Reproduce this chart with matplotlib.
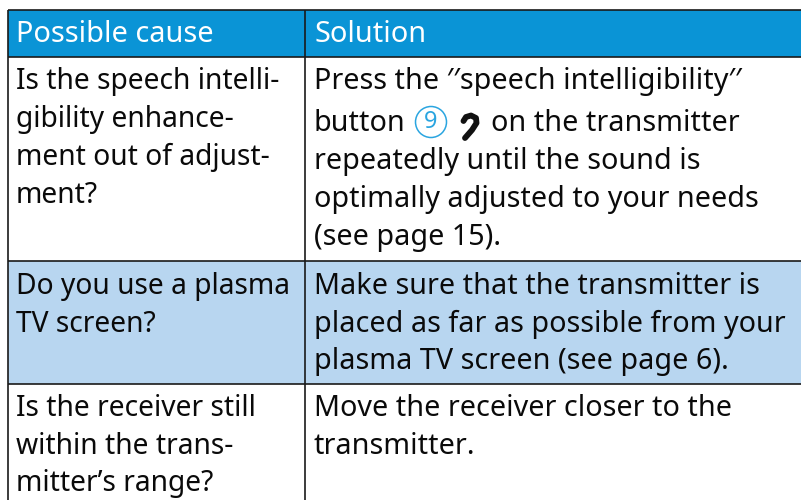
import matplotlib
matplotlib.use('Agg')
import matplotlib.pyplot as plt
from matplotlib.patches import Rectangle, Circle

# ------------------------------------------------------------------------------------------------
## table content
HEADERS = ['Possible cause', 'Solution']

CAUSES = [
    ['Is the speech intelli-', 'gibility enhance-', 'ment out of adjust-', 'ment?'],
    ['Do you use a plasma', 'TV screen?'],
    ['Is the receiver still', 'within the trans-', 'mitter\u2019s range?'],
]

SOLUTIONS = [
    ['Press the \u2032\u2032speech intelligibility\u2032\u2032',
     'button',
     'repeatedly until the sound is',
     'optimally adjusted to your needs',
     '(see page 15).'],
    ['Make sure that the transmitter is',
     'placed as far as possible from your',
     'plasma TV screen (see page 6).'],
    ['Move the receiver closer to the', 'transmitter.'],
]

BUTTON_NUMBER = '9'
BUTTON_TAIL = 'on the transmitter'

# ------------------------------------------------------------------------------------------------
## layout in pixels of the 801x500 picture
LEFT, MIDDLE, RIGHT = 7.5, 305, 801
TOP, HEADER_BOTTOM = 9.5, 57
ROW_BOTTOMS = [261, 384, 500]
ROW_COLORS = ['white', '#b8d6f0', 'white']
HEADER_COLOR = '#0a94d6'

CAUSE_BASELINES = [[89, 127, 165, 203], [294, 332], [416, 454, 491]]
SOLUTION_BASELINES = [[89, 131, 169, 207, 244.5], [294, 332, 369], [416, 454]]

FONT = 'Noto Sans'
CAUSE_SIZE = 20.3
SOLUTION_SIZE = 20.7

fig = plt.figure(figsize=(8.01, 5), dpi=100)
ax = fig.add_axes([0, 0, 1, 1])
ax.set_xlim(0, 801)
ax.set_ylim(500, 0)
ax.axis('off')

# backgrounds
ax.add_patch(Rectangle((LEFT, TOP), RIGHT - LEFT, HEADER_BOTTOM - TOP, fc=HEADER_COLOR, ec='none'))
row_top = HEADER_BOTTOM
for bottom, color in zip(ROW_BOTTOMS, ROW_COLORS):
    ax.add_patch(Rectangle((LEFT, row_top), RIGHT - LEFT, bottom - row_top, fc=color, ec='none'))
    row_top = bottom

# grid lines
for y in [TOP, HEADER_BOTTOM] + ROW_BOTTOMS[:2]:
    ax.plot([LEFT, RIGHT], [y, y], color='#1a1a1a', lw=1.2, solid_capstyle='butt')
for x in [LEFT, MIDDLE]:
    ax.plot([x, x], [TOP, 500], color='#1a1a1a', lw=1.2, solid_capstyle='butt')

# header text
ax.text(16, 42.5, HEADERS[0], color='white', family=FONT, size=20.8, va='baseline')
ax.text(314, 42.5, HEADERS[1], color='white', family=FONT, size=20.8, va='baseline')

# cell text
for lines, baselines in zip(CAUSES, CAUSE_BASELINES):
    for line, y in zip(lines, baselines):
        ax.text(16, y, line, color='#0a0a0a', family=FONT, size=CAUSE_SIZE, va='baseline')
for lines, baselines in zip(SOLUTIONS, SOLUTION_BASELINES):
    for line, y in zip(lines, baselines):
        ax.text(313.5, y, line, color='#0a0a0a', family=FONT, size=SOLUTION_SIZE, va='baseline')

# circled number and ear symbol in the "button" line
ax.add_patch(Circle((431, 122), 15.5, fc='none', ec='#2aa5e0', lw=1.1))
ax.text(431, 122, BUTTON_NUMBER, color='#2aa5e0', family=FONT, size=17, ha='center', va='center')
ax.plot([463.5, 466, 471, 476, 476.5, 472, 465], [121, 117, 115.5, 118, 123, 130, 138],
        color='#111111', lw=4.2, solid_capstyle='round', solid_joinstyle='round')
ax.text(491, 131, BUTTON_TAIL, color='#0a0a0a', family=FONT, size=SOLUTION_SIZE, va='baseline')

fig.savefig('out.png', dpi=100)
